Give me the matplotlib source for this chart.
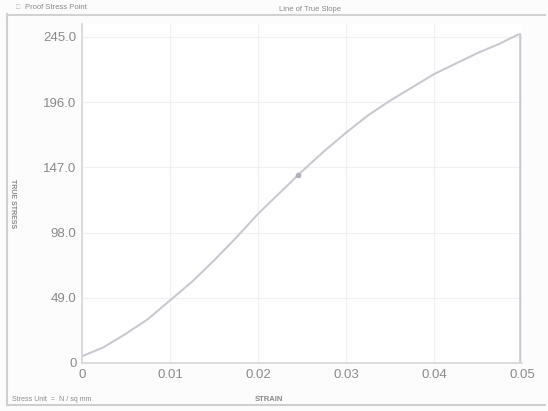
import numpy as np
import matplotlib.pyplot as plt
from matplotlib.lines import Line2D

# stress-strain trace (strain, N/sq mm)
strain = [0.0, 0.0025, 0.005, 0.0075, 0.01, 0.0125, 0.015, 0.0175, 0.02, 0.0225,
          0.025, 0.0275, 0.03, 0.0325, 0.035, 0.0375, 0.04, 0.0425, 0.045, 0.0475,
          0.0495, 0.0498, 0.0498]
stress = [5.0, 12.0, 22.0, 33.0, 47.0, 61.0, 77.0, 94.0, 112.0, 128.0,
          144.0, 159.0, 173.0, 186.0, 197.0, 207.0, 217.0, 225.0, 233.0, 240.0,
          246.5, 247.0, 0.0]

proof_strain = 0.0246
proof_stress = 141.5

xticks = [0, 0.01, 0.02, 0.03, 0.04, 0.05]
xlabels = ["0", "0.01", "0.02", "0.03", "0.04", "0.05"]
yticks = [0, 49, 98, 147, 196, 245]
ylabels = ["0", "49.0", "98.0", "147.0", "196.0", "245.0"]

plt.rcParams['font.family'] = ['Liberation Sans', 'DejaVu Sans']

fig = plt.figure(figsize=(5.48, 4.11), dpi=100)
fig.patch.set_facecolor("#fcfcfc")
ax = fig.add_axes([0.1496, 0.1168, 0.803, 0.826])
ax.set_facecolor("white")

ax.plot(strain, stress, color="#c9c9d2", lw=1.5, solid_joinstyle="round")
ax.plot([proof_strain], [proof_stress], marker="o", ms=3, color="#b0b0bc", ls="none")

ax.set_xlim(0, 0.05)
ax.set_ylim(0, 255)
ax.set_xticks(xticks)
ax.set_xticklabels(xlabels)
ax.set_yticks(yticks)
ax.set_yticklabels(ylabels)
ax.tick_params(length=0, colors="#8a8a8a", labelsize=9.5, pad=4)
ax.grid(True, color="#f0f0f0", lw=0.9)
for s in ["top", "right"]:
    ax.spines[s].set_visible(False)
for s in ["left", "bottom"]:
    ax.spines[s].set_color("#d6d6d6")
    ax.spines[s].set_linewidth(1.2)

# outer frame and header line
fig.add_artist(Line2D([0.012, 0.012], [0.015, 0.965], color="#cfcfcf", lw=1.5))
fig.add_artist(Line2D([0.012, 0.995], [0.015, 0.015], color="#cfcfcf", lw=1.5))
fig.add_artist(Line2D([0.012, 0.995], [0.963, 0.963], color="#d2d2d2", lw=1.5))

fig.text(0.03, 0.982, "\u25a1", fontsize=5, color="#b5b5b5", va="center")
fig.text(0.045, 0.982, "Proof Stress Point", fontsize=5.5, color="#8a8a8a", va="center")
fig.text(0.565, 0.978, "Line of True Slope", fontsize=5.5, color="#8a8a8a", va="center", ha="center")

fig.text(0.022, 0.505, "TRUE STRESS", rotation=270, fontsize=5, color="#8a8a8a",
         va="center", ha="center", fontweight="bold")
fig.text(0.022, 0.028, "Stress Unit  =  N / sq mm", fontsize=5, color="#8a8a8a", va="center")
fig.text(0.49, 0.028, "STRAIN", fontsize=5.5, color="#8a8a8a", va="center", ha="center",
         fontweight="bold")

fig.savefig("out.png", dpi=100, facecolor=fig.get_facecolor())
